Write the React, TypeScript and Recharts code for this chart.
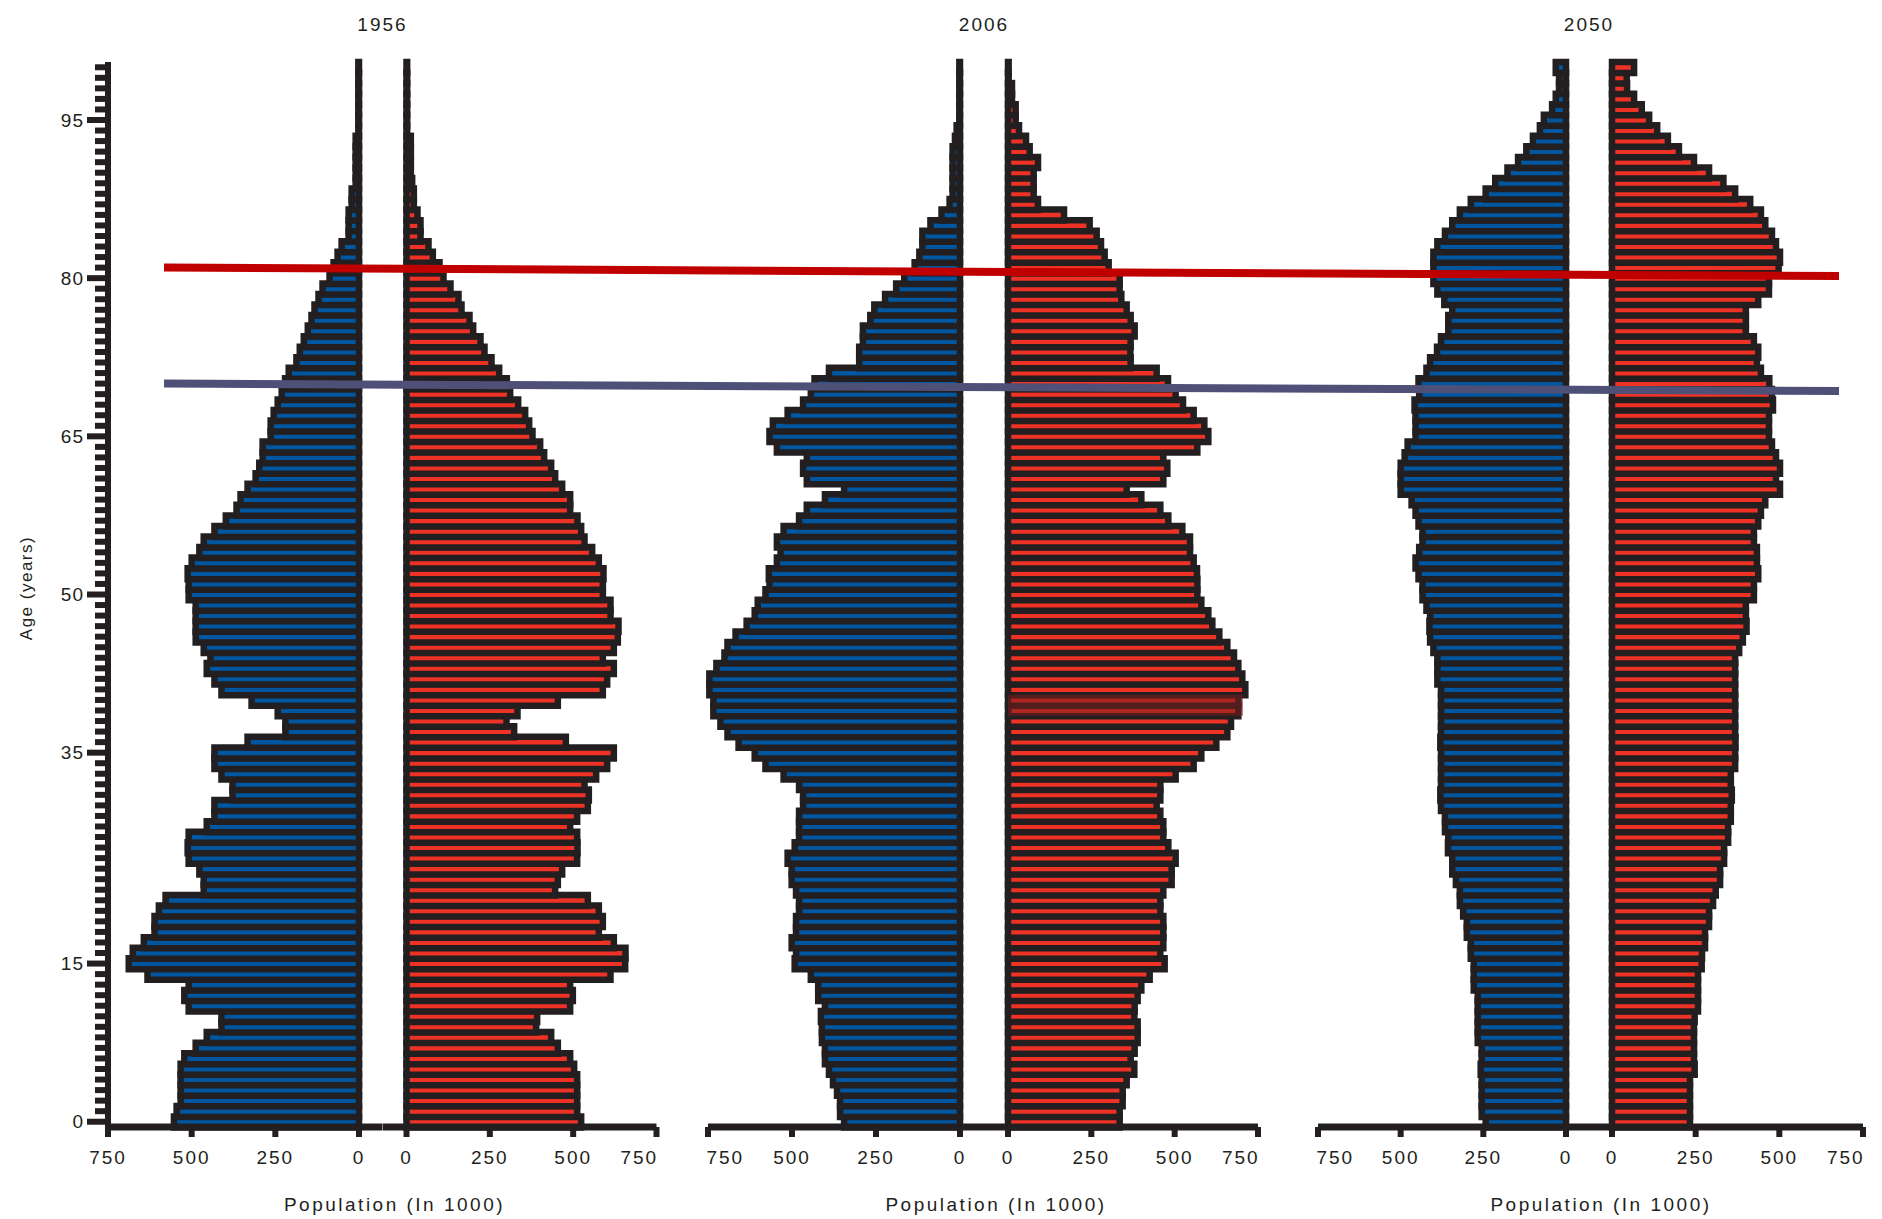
import { BarChart, Bar, XAxis, YAxis, ReferenceArea, LineChart, Line, Label } from 'recharts';

// ages 0..100, values in thousands
const ages = Array.from({ length: 101 }, (_, i) => i);
const ageLabels = [0, 15, 35, 50, 65, 80, 95];
const popTicks = [0, 250, 500, 750];

const male1956 = [
  553, 545, 533, 533, 533, 533, 522, 488, 455, 411, 411, 509, 522, 509, 632, 688, 676, 643, 611, 611,
  598, 578, 464, 464, 477, 509, 512, 509, 455, 432, 432, 378, 378, 411, 432, 432, 333, 220, 220, 243,
  321, 411, 432, 455, 444, 464, 488, 488, 488, 488, 509, 509, 512, 500, 477, 464, 432, 398, 366, 354,
  333, 309, 298, 288, 288, 264, 264, 255, 243, 231, 221, 210, 187, 177, 165, 153, 142, 133, 121, 109,
  88, 76, 64, 52, 31, 31, 31, 22, 22, 10, 10, 10, 10, 10, 2, 2, 2, 2, 2, 2, 2,
];
const female1956 = [
  524, 512, 512, 512, 512, 503, 491, 454, 434, 389, 392, 491, 499, 491, 612, 656, 657, 622, 577, 589,
  577, 544, 446, 454, 467, 512, 513, 512, 491, 512, 544, 547, 534, 569, 602, 622, 478, 323, 300, 333,
  454, 589, 602, 622, 589, 622, 634, 636, 612, 612, 589, 589, 591, 577, 557, 534, 524, 513, 491, 491,
  467, 446, 434, 413, 401, 378, 368, 356, 335, 311, 301, 278, 255, 234, 222, 200, 189, 165, 156, 132,
  111, 99, 79, 66, 42, 42, 33, 22, 22, 17, 13, 13, 13, 13, 2, 2, 2, 2, 2, 2, 2,
];
const male2006 = [
  345, 357, 357, 366, 378, 390, 402, 402, 411, 411, 414, 402, 422, 422, 444, 492, 488, 501, 488, 488,
  479, 479, 488, 501, 501, 513, 492, 479, 479, 479, 467, 467, 479, 525, 579, 611, 659, 692, 713, 734,
  734, 746, 746, 725, 701, 692, 668, 635, 611, 602, 579, 567, 569, 545, 534, 545, 525, 479, 456, 402,
  345, 456, 467, 456, 545, 567, 557, 513, 467, 444, 433, 390, 300, 300, 289, 289, 267, 255, 223, 190,
  166, 135, 121, 112, 112, 88, 55, 31, 22, 22, 22, 22, 22, 15, 10, 2, 2, 2, 2, 2, 2,
];
const female2006 = [
  335, 335, 344, 344, 356, 379, 368, 380, 389, 389, 379, 380, 389, 400, 425, 470, 457, 466, 466, 466,
  457, 457, 466, 491, 491, 503, 481, 466, 466, 457, 446, 457, 457, 503, 557, 580, 625, 658, 669, 691,
  691, 712, 703, 691, 678, 658, 634, 613, 601, 580, 568, 568, 567, 557, 546, 546, 523, 481, 457, 400,
  356, 466, 478, 466, 568, 601, 589, 557, 525, 503, 480, 446, 368, 367, 368, 380, 368, 356, 340, 335,
  335, 302, 290, 279, 266, 245, 168, 90, 77, 77, 77, 90, 65, 54, 33, 23, 23, 12, 12, 2, 2,
];
const male2050 = [
  243, 255, 255, 255, 255, 258, 255, 255, 267, 267, 267, 267, 267, 279, 279, 279, 288, 288, 300, 300,
  311, 321, 321, 333, 344, 344, 357, 356, 366, 366, 378, 380, 378, 378, 378, 378, 380, 378, 378, 378,
  378, 378, 389, 389, 389, 401, 411, 413, 411, 422, 434, 434, 446, 455, 444, 434, 434, 446, 455, 467,
  500, 500, 500, 488, 479, 455, 455, 455, 458, 444, 446, 422, 411, 390, 378, 356, 356, 344, 368, 389,
  401, 401, 401, 389, 366, 344, 321, 288, 243, 214, 177, 145, 120, 100, 79, 67, 42, 31, 21, 21, 31,
];
const female2050 = [
  233, 233, 233, 233, 233, 247, 245, 245, 245, 245, 247, 257, 257, 257, 257, 268, 269, 278, 278, 290,
  290, 302, 310, 323, 323, 335, 335, 347, 347, 355, 355, 358, 355, 355, 368, 368, 369, 368, 368, 368,
  368, 368, 368, 368, 368, 380, 391, 402, 400, 400, 424, 424, 437, 433, 433, 424, 424, 437, 445, 458,
  502, 490, 502, 490, 478, 469, 469, 469, 481, 478, 470, 445, 433, 437, 424, 400, 400, 400, 437, 469,
  469, 498, 502, 490, 478, 458, 445, 413, 368, 333, 290, 245, 200, 167, 135, 111, 89, 66, 45, 44, 66,
];

// the two horizontal guide lines (age at the left end, age at the right end)
const womenLine = [81.0, 80.2];
const menLine = [70.0, 69.3];

const INK = '#231f20';
const BLUE = '#0057a0';
const RED = '#ee3226';
const FONT = '"Liberation Sans", Arial, sans-serif';
const W = 1882;
const H = 1219;
const TOP = 62;
const BOTTOM = 92;

const makeRows = (m: number[], f: number[]) => ages.map((age, i) => ({ age, male: m[i], female: f[i] }));

const panels = [
  { year: '1956', rows: makeRows(male1956, female1956), maleLeft: 108, maleZero: 359, femaleZero: 406, femaleRight: 656, axis: true, mark: false },
  { year: '2006', rows: makeRows(male2006, female2006), maleLeft: 708, maleZero: 960, femaleZero: 1008, femaleRight: 1258, axis: false, mark: true },
  { year: '2050', rows: makeRows(male2050, female2050), maleLeft: 1318, maleZero: 1566, femaleZero: 1612, femaleRight: 1863, axis: false, mark: false },
];

const tickStyle = { fill: INK, fontSize: 19, fontFamily: FONT, letterSpacing: 2 };
const axisLine = { stroke: INK, strokeWidth: 7 };
const tickLine = { stroke: INK, strokeWidth: 6 };

const AgeTick = (props: any) => {
  const { x, y, payload } = props;
  const major = ageLabels.includes(payload.value);
  const len = major ? 21 : 13;
  return (
    <g>
      <line x1={x} x2={x - len} y1={y} y2={y} stroke={INK} strokeWidth={6} />
      {major && (
        <text x={x - len - 3} y={y} dy="0.35em" textAnchor="end" fill={INK} fontSize={19} fontFamily={FONT} letterSpacing={1}>
          {payload.value}
        </text>
      )}
    </g>
  );
};

const Panel = (p: any) => {
  const gap = (p.maleZero + p.femaleZero) / 2;
  const left = p.axis ? 0 : p.maleLeft;
  const mid = gap - left;
  return (
    <>
      <div style={{ position: 'absolute', left, top: 0 }}>
        <BarChart width={gap - left} height={H} data={p.rows} layout="vertical" barCategoryGap={0}
          margin={{ top: TOP, right: 0, bottom: BOTTOM - 60, left: 0 }}>
          <XAxis type="number" domain={[0, 750]} ticks={popTicks} reversed height={60}
            padding={{ left: 0, right: gap - p.maleZero }}
            axisLine={axisLine} tickLine={tickLine}
            tickSize={10} tickMargin={14} tick={tickStyle}
            label={<Label content={() => (
              <g>
                <text x={mid} y={31} textAnchor="middle" fill={INK} fontSize={19} fontFamily={FONT} letterSpacing={2}>{p.year}</text>
                <text x={mid + 12} y={1211} textAnchor="middle" fill={INK} fontSize={19} fontFamily={FONT} letterSpacing={2.5}>Population (In 1000)</text>
              </g>
            )} />} />
          <YAxis type="category" dataKey="age" reversed hide={!p.axis} width={p.maleLeft} interval={0}
            tick={AgeTick} tickLine={false} tickSize={0} tickMargin={0}
            axisLine={{ stroke: INK, strokeWidth: 6 }}
            label={<Label content={() => (
              <text transform={`translate(32, 588) rotate(-90)`} textAnchor="middle" fill={INK} fontSize={17} fontFamily={FONT} letterSpacing={1.5}>Age (years)</text>
            )} />} />
          <Bar dataKey="male" fill={BLUE} stroke={INK} strokeWidth={6.5} isAnimationActive={false} />
        </BarChart>
      </div>
      <div style={{ position: 'absolute', left: gap, top: 0 }}>
        <BarChart width={p.femaleRight - gap} height={H} data={p.rows} layout="vertical" barCategoryGap={0}
          margin={{ top: TOP, right: 0, bottom: BOTTOM - 60, left: 0 }}>
          <XAxis type="number" domain={[0, 750]} ticks={popTicks} height={60}
            padding={{ left: p.femaleZero - gap, right: 0 }}
            axisLine={axisLine} tickLine={tickLine}
            tickSize={10} tickMargin={14} tick={tickStyle} />
          <YAxis type="category" dataKey="age" reversed hide />
          <Bar dataKey="female" fill={RED} stroke={INK} strokeWidth={6.5} isAnimationActive={false} />
          {p.mark && (
            <ReferenceArea x1={0} x2={705} y1={40} y2={39} fill="#7b1c1c" fillOpacity={0.55} stroke="none"
              ifOverflow="visible" zIndex={1000} />
          )}
        </BarChart>
      </div>
    </>
  );
};

const lifeRows = [
  { t: 0, women: womenLine[0], men: menLine[0] },
  { t: 1, women: womenLine[1], men: menLine[1] },
];

export default function App() {
  return (
    <div style={{ position: 'absolute', left: 0, top: 0, width: W, height: H, background: '#fff' }}>
      <style>{'.recharts-surface{overflow:visible}'}</style>
      {panels.map((p) => <Panel key={p.year} {...p} />)}
      <div style={{ position: 'absolute', left: 164, top: 0 }}>
        <LineChart width={1675} height={H} data={lifeRows} margin={{ top: TOP, right: 0, bottom: BOTTOM, left: 0 }}>
          <XAxis type="number" dataKey="t" domain={[0, 1]} hide />
          <YAxis type="number" domain={[-0.5, 100.5]} hide />
          <Line dataKey="women" stroke="#c00000" strokeWidth={8} dot={false} isAnimationActive={false} />
          <Line dataKey="men" stroke="#4f5078" strokeWidth={8} dot={false} isAnimationActive={false} />
        </LineChart>
      </div>
    </div>
  );
}
